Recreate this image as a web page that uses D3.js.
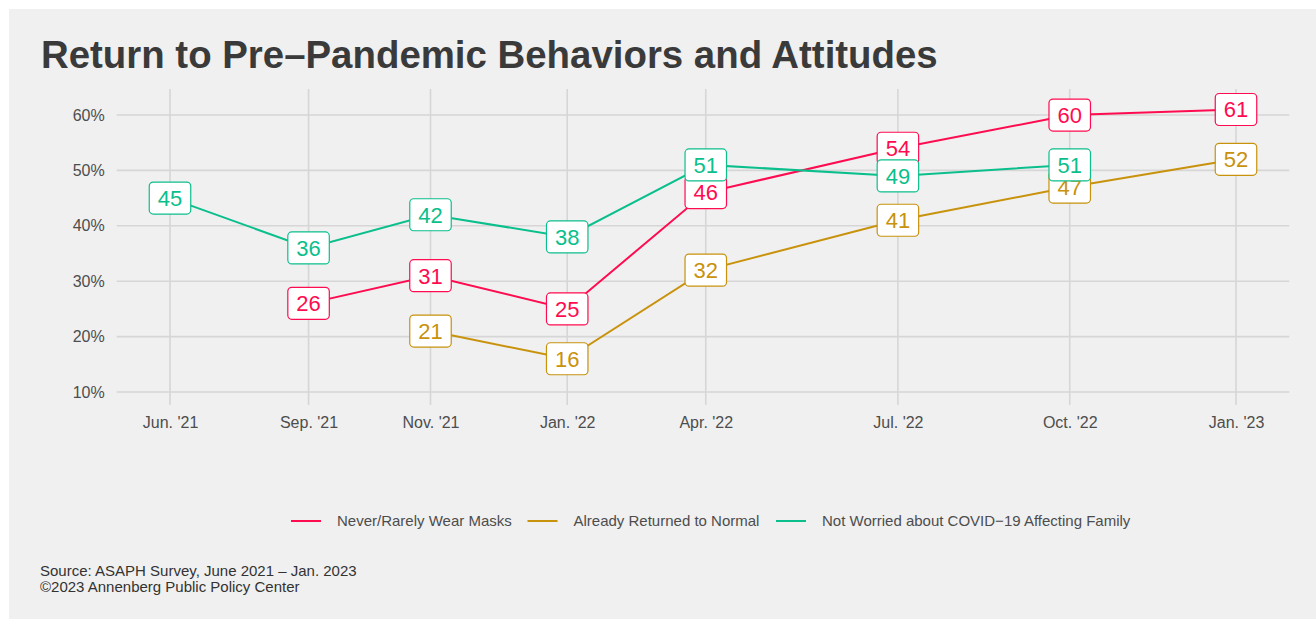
<!DOCTYPE html>
<html>
<head>
<meta charset="utf-8">
<script src="https://cdn.jsdelivr.net/npm/d3@7"></script>
<style>
  html, body { margin: 0; padding: 0; background: #ffffff; }
  svg { display: block; font-family: "Liberation Sans", Arial, Helvetica, sans-serif; }
</style>
</head>
<body>
<svg id="chart" width="1316" height="619"></svg>
<script>
// ---- Data ----
const waveDates = ["2021-06-25", "2021-09-08", "2021-11-13", "2022-01-26", "2022-04-11", "2022-07-24", "2022-10-25", "2023-01-23"];
const waveLabels = ["Jun. '21", "Sep. '21", "Nov. '21", "Jan. '22", "Apr. '22", "Jul. '22", "Oct. '22", "Jan. '23"];
const seriesNames = ["Never/Rarely Wear Masks", "Already Returned to Normal", "Not Worried about COVID\u221219 Affecting Family"];
const masksValues   = [null, 26, 31, 25, 46, 54, 60, 61];
const normalValues  = [null, null, 21, 16, 32, 41, 47, 52];
const worriedValues = [45, 36, 42, 38, 51, 49, 51, null];
const yTicks = [10, 20, 30, 40, 50, 60];
const seriesColors = ["#ff0b4f", "#c8920c", "#0bbf8d"];
const titleText = "Return to Pre\u2013Pandemic Behaviors and Attitudes";
const captionLines = ["Source: ASAPH Survey, June 2021 \u2013 Jan. 2023", "\u00a92023 Annenberg Public Policy Center"];

const parse = d3.timeParse("%Y-%m-%d");
const dates = waveDates.map(parse);
const seriesValues = [masksValues, normalValues, worriedValues];
const series = seriesNames.map((name, i) => ({
  name, color: seriesColors[i],
  points: seriesValues[i].map((v, j) => ({ date: dates[j], value: v })).filter(p => p.value !== null)
}));

// ---- Layout ----
const svg = d3.select("#chart");
const W = 1316, H = 619;
svg.append("rect").attr("x", 9).attr("y", 9).attr("width", W - 9).attr("height", H - 9).attr("fill", "#f0f0f0");

const plot = { left: 116.7, right: 1289.3, top: 89, bottom: 405 };

const ext = d3.extent(dates);
const span = ext[1] - ext[0];
const x = d3.scaleTime()
  .domain([new Date(+ext[0] - span * 0.05), new Date(+ext[1] + span * 0.05)])
  .range([plot.left, plot.right]);
const y = d3.scaleLinear().domain([7.65, 64.7]).range([plot.bottom, plot.top]);

// Title
svg.append("text").attr("x", 41).attr("y", 68)
  .attr("font-size", 38.4).attr("font-weight", "bold").attr("fill", "#3a3a3a")
  .text(titleText);

// Grid
const grid = svg.append("g");
grid.selectAll("line.h").data(yTicks).join("line").attr("class", "h")
  .attr("x1", plot.left).attr("x2", plot.right)
  .attr("y1", d => y(d)).attr("y2", d => y(d))
  .attr("stroke", "#d6d6d6").attr("stroke-width", 1.6);
grid.selectAll("line.v").data(dates).join("line").attr("class", "v")
  .attr("x1", d => x(d)).attr("x2", d => x(d))
  .attr("y1", plot.top).attr("y2", plot.bottom)
  .attr("stroke", "#d6d6d6").attr("stroke-width", 1.6);

// Axes (built with d3 axes, domain lines and ticks hidden)
const yAxis = svg.append("g").attr("transform", `translate(${plot.left},0)`)
  .call(d3.axisLeft(y).tickValues(yTicks).tickFormat(d => d + "%").tickSize(0).tickPadding(12));
yAxis.select(".domain").remove();
yAxis.selectAll("text").attr("font-size", 16).attr("fill", "#4d4d4d")
  .attr("font-family", "Liberation Sans, Arial, sans-serif");

const xAxis = svg.append("g").attr("transform", `translate(0,${plot.bottom})`)
  .call(d3.axisBottom(x).tickValues(dates).tickFormat((d, i) => waveLabels[i]).tickSize(0).tickPadding(12));
xAxis.select(".domain").remove();
xAxis.selectAll("text").attr("font-size", 16).attr("fill", "#4d4d4d")
  .attr("font-family", "Liberation Sans, Arial, sans-serif");

// Lines
const line = d3.line().x(d => x(d.date)).y(d => y(d.value));
svg.append("g").selectAll("path").data(series).join("path")
  .attr("d", d => line(d.points))
  .attr("fill", "none").attr("stroke", d => d.color).attr("stroke-width", 2);

// Labels
const labelsG = svg.append("g");
series.forEach(s => {
  const g = labelsG.append("g");
  s.points.forEach(p => {
    const cx = x(p.date), cy = y(p.value);
    const lg = g.append("g");
    const rect = lg.append("rect");
    const t = lg.append("text").attr("x", cx).attr("y", cy)
      .attr("text-anchor", "middle").attr("dy", "0.36em")
      .attr("font-size", 22).attr("fill", s.color).text(Math.round(p.value));
    const tw = t.node().getComputedTextLength();
    const bw = tw + 17, bh = 32;
    rect.attr("x", cx - bw / 2).attr("y", cy - bh / 2).attr("width", bw).attr("height", bh)
      .attr("rx", 4).attr("fill", "#ffffff").attr("stroke", s.color).attr("stroke-width", 1.2);
  });
});

// Legend
const legendY = 521;
const legendStarts = [291, 527.5, 776];
const leg = svg.append("g");
series.forEach((s, i) => {
  const lx = legendStarts[i];
  leg.append("line").attr("x1", lx).attr("x2", lx + 30).attr("y1", legendY).attr("y2", legendY)
    .attr("stroke", s.color).attr("stroke-width", 2);
  leg.append("text").attr("x", lx + 46).attr("y", legendY).attr("dy", "0.35em")
    .attr("font-size", 15).attr("fill", "#4d4d4d").text(s.name);
});

// Caption
svg.append("g").selectAll("text").data(captionLines).join("text")
  .attr("x", 40).attr("y", (d, i) => 576 + i * 15.7)
  .attr("font-size", 15).attr("fill", "#333333").text(d => d);
</script>
</body>
</html>
